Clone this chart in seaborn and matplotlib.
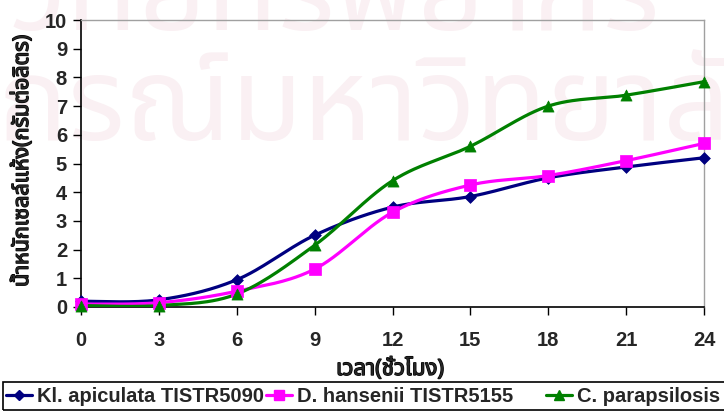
import numpy as np
import pandas as pd
import matplotlib
matplotlib.use("Agg")
import matplotlib.pyplot as plt
import matplotlib.patheffects as pe
from matplotlib import font_manager
from matplotlib.patches import Rectangle
import seaborn as sns

# Sampling times (hours) and dry cell weight (g/L) for each yeast
hours = [0, 3, 6, 9, 12, 15, 18, 21, 24]
kl_apiculata = [0.20, 0.25, 0.95, 2.50, 3.48, 3.85, 4.50, 4.88, 5.20]
d_hansenii = [0.10, 0.15, 0.55, 1.32, 3.30, 4.25, 4.58, 5.10, 5.70]
c_parapsilosis = [0.05, 0.05, 0.45, 2.15, 4.40, 5.60, 7.00, 7.38, 7.85]

series_names = ["Kl. apiculata TISTR5090", "D. hansenii TISTR5155", "C. parapsilosis"]
series_values = [kl_apiculata, d_hansenii, c_parapsilosis]
colors = ["#000080", "#FF00FF", "#008000"]
markers = ["D", "s", "^"]
marker_sizes = [6, 8, 8]

x_label = "เวลา(ชั่วโมง)"
y_label = "น้ำหนักเซลล์แห้ง(กรัมต่อลิตร)"
watermark_lines = ["ศูนย์วิทยทรัพยากร", "จุฬาลงกรณ์มหาวิทยาลัย"]
x_ticks = [0, 3, 6, 9, 12, 15, 18, 21, 24]
y_ticks = list(range(0, 11))

W, H = 724, 412


def find_thai_font():
    """Return the name of an installed font that has Thai glyphs."""
    from matplotlib.ft2font import FT2Font
    preferred = ["Tahoma", "Noto Sans Thai", "Noto Sans Thai UI", "Loma", "Garuda",
                 "Norasi", "Kinnari", "Waree", "Sarabun", "TH Sarabun New"]
    found = {}
    for path in font_manager.findSystemFonts():
        try:
            f = FT2Font(path)
            cmap = f.get_charmap()
            if 0x0E01 in cmap and 0x0E49 in cmap:
                found.setdefault(f.family_name, path)
        except Exception:
            continue
    for name in preferred:
        if name in found:
            return name
    return sorted(found)[0] if found else None


sns.set_theme(style="white")
thai_font = find_thai_font()
base_family = ["Liberation Sans", "DejaVu Sans"]
thai_family = ([thai_font] if thai_font else []) + base_family
plt.rcParams["font.family"] = base_family
# thicken the Thai strokes so the axis titles read as bold
bold_stroke = [pe.withStroke(linewidth=1.0, foreground="black")]


def smooth_curve(xs, ys, steps=30):
    """Catmull-Rom style smoothing through every data point (spreadsheet 'smoothed line')."""
    xs = np.asarray(xs, float)
    ys = np.asarray(ys, float)
    px = np.concatenate([[xs[0]], xs, [xs[-1]]])
    py = np.concatenate([[ys[0]], ys, [ys[-1]]])
    out_x, out_y = [], []
    t = np.linspace(0, 1, steps)
    for i in range(1, len(px) - 2):
        p0 = np.array([px[i], py[i]])
        p3 = np.array([px[i + 1], py[i + 1]])
        c1 = p0 + (np.array([px[i + 1], py[i + 1]]) - np.array([px[i - 1], py[i - 1]])) / 6
        c2 = p3 - (np.array([px[i + 2], py[i + 2]]) - np.array([px[i], py[i]])) / 6
        b = ((1 - t) ** 3)[:, None] * p0 + (3 * (1 - t) ** 2 * t)[:, None] * c1 \
            + (3 * (1 - t) * t ** 2)[:, None] * c2 + (t ** 3)[:, None] * p3
        out_x.extend(b[:, 0])
        out_y.extend(b[:, 1])
    return np.array(out_x), np.array(out_y)


fig = plt.figure(figsize=(W / 100, H / 100), dpi=100)
fig.patch.set_facecolor("white")

# Very faint background watermark of the source document, behind everything
if thai_font:
    fig.text(660 / W, 1 - 30 / H, watermark_lines[0], family=thai_family, fontsize=84,
             color="#faf0f3", ha="right", va="baseline", zorder=-5)
    fig.text(800 / W, 1 - 140 / H, watermark_lines[1], family=thai_family, fontsize=84,
             color="#faf0f3", ha="right", va="baseline", zorder=-5)

ax = fig.add_axes([81 / W, 1 - 307 / H, 623 / W, 287 / H])
ax.set_facecolor("none")

for name, vals, col, mk, ms in zip(series_names, series_values, colors, markers, marker_sizes):
    sx, sy = smooth_curve(hours, vals)
    sns.lineplot(x=sx, y=sy, ax=ax, color=col, linewidth=2.3, sort=False,
                 estimator=None, legend=False, zorder=3)
    df = pd.DataFrame({"hour": hours, "value": vals})
    sns.scatterplot(data=df, x="hour", y="value", ax=ax, color=col, marker=mk,
                    s=ms ** 2, edgecolor=col, linewidth=0.5, zorder=4, legend=False,
                    clip_on=False)

ax.set_xlim(0, 24)
ax.set_ylim(0, 10)
ax.set_xticks(x_ticks)
ax.set_yticks(y_ticks)
ax.set_xticklabels([str(v) for v in x_ticks], fontsize=14.5, fontweight="bold")
ax.set_yticklabels([str(v) for v in y_ticks], fontsize=14.5, fontweight="bold")
ax.tick_params(axis="x", direction="out", length=6, width=1, color="black", pad=11,
               bottom=True)
ax.tick_params(axis="y", direction="out", length=6, width=1, color="black", pad=4,
               left=True)
for side in ["left", "bottom"]:
    ax.spines[side].set_color("black")
    ax.spines[side].set_linewidth(1.2)
for side in ["top", "right"]:
    ax.spines[side].set_color("#a0a0a0")
    ax.spines[side].set_linewidth(1.0)

ax.set_xlabel(x_label, family=thai_family, fontsize=16, fontweight="bold",
              path_effects=bold_stroke)
ax.set_ylabel(y_label, family=thai_family, fontsize=15.5, fontweight="bold",
              path_effects=bold_stroke)
ax.xaxis.set_label_coords((390 - 81) / 623, (307 - 357) / 287)
ax.yaxis.set_label_coords((33 - 81) / 623, (307 - 161) / 287)

# Legend along the bottom edge, boxed; each entry placed at its own slot
slots = [6, 266, 546]
for c, m, ms, name, x0 in zip(colors, markers, marker_sizes, series_names, slots):
    h = plt.Line2D([], [], color=c, marker=m, markersize=ms * 0.85, linewidth=2.3)
    lg = fig.legend([h], [name], loc="lower left", bbox_to_anchor=(x0 / W, 6 / H),
                    frameon=False, prop={"weight": "bold", "size": 14.5},
                    handlelength=1.3, handletextpad=0.25, borderpad=0,
                    borderaxespad=0)
fig.add_artist(Rectangle((3 / W, 2 / H), 730 / W, 28 / H, transform=fig.transFigure,
                         fill=False, edgecolor="black", linewidth=1.2, clip_on=False))

fig.savefig("out.png", dpi=100)
